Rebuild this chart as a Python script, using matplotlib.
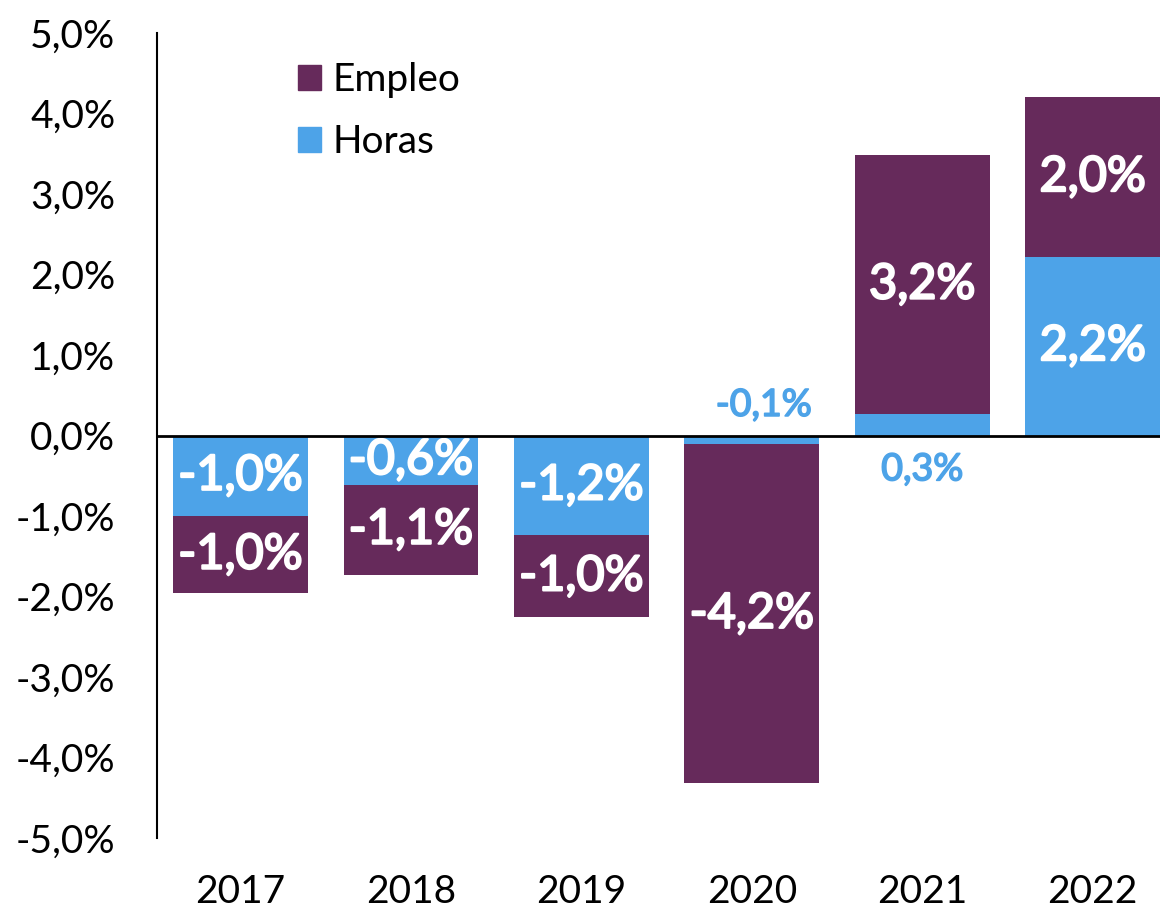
import matplotlib.pyplot as plt
import matplotlib.patheffects as pe
from matplotlib.patches import Patch

plt.rcParams['font.family'] = ['Lato', 'DejaVu Sans']

years = ['2017', '2018', '2019', '2020', '2021', '2022']
horas = [-1.00, -0.61, -1.24, -0.11, 0.27, 2.22]
empleo = [-0.96, -1.12, -1.02, -4.21, 3.21, 1.98]

c_emp = '#662A5B'
c_hor = '#4DA3E8'

def fmt(v):
    return ('%.1f%%' % v).replace('.', ',')

fig = plt.figure(figsize=(11.6, 9.11), dpi=100)
ax = fig.add_axes([0.1353, 0.0801, 0.8647, 0.8837])

x = list(range(len(years)))
w = 0.79
ax.bar(x, horas, w, color=c_hor, zorder=2)
ax.bar(x, empleo, w, bottom=horas, color=c_emp, zorder=2)

bold_w = [pe.withStroke(linewidth=1.6, foreground='white')]
bold_b = [pe.withStroke(linewidth=1.2, foreground=c_hor)]

for i in x:
    h = horas[i]
    e = empleo[i]
    if abs(h) >= 0.5:
        ax.text(i, h / 2, fmt(h), ha='center', va='center', color='white',
                fontsize=35, path_effects=bold_w, zorder=3)
    else:
        # small segment: label on the other side of zero
        yy = 0.38 if h < 0 else -0.42
        ax.text(i + 0.07 * (h < 0), yy, fmt(h), ha='center', va='center', color=c_hor,
                fontsize=27, path_effects=bold_b, zorder=3)
    ax.text(i, h + e / 2, fmt(e), ha='center', va='center', color='white',
            fontsize=35, path_effects=bold_w, zorder=3)

ax.axhline(0, color='black', lw=2, zorder=4)
ax.set_xlim(-0.49, 5.395)
ax.set_ylim(-5, 5)
ax.set_yticks([v for v in range(-5, 6)])
ax.set_yticklabels([fmt(v) for v in range(-5, 6)])
ax.set_xticks(x)
ax.set_xticklabels(years)
ax.tick_params(axis='y', length=0, labelsize=28, pad=30)
ax.tick_params(axis='x', length=0, labelsize=28, pad=26)
for s in ['top', 'right', 'bottom']:
    ax.spines[s].set_visible(False)
ax.spines['left'].set_linewidth(1.5)

handles = [Patch(color=c_emp, label='Empleo'), Patch(color=c_hor, label='Horas')]
ax.legend(handles=handles, loc='upper left', bbox_to_anchor=(298 / 1160, 1 - 62 / 911),
          bbox_transform=fig.transFigure, frameon=False, fontsize=28,
          borderpad=0, borderaxespad=0,
          handlelength=0.6, handleheight=0.6, handletextpad=0.3, labelspacing=0.68)

fig.savefig('out.png', dpi=100)
